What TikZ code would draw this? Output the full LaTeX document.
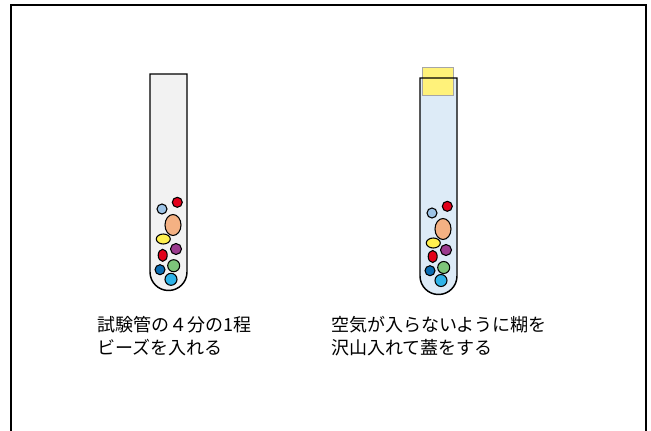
\documentclass[tikz,border=0pt]{standalone}
\usepackage{fontspec}
\newfontfamily\jp{Noto Sans CJK JP}
\definecolor{glassgray}{HTML}{F2F2F2}
\definecolor{glassblue}{HTML}{DDEBF7}
\definecolor{capyellow}{HTML}{FFF27A}
\definecolor{bLightBlue}{HTML}{9DC3E6}
\definecolor{bRed}{HTML}{E2001A}
\definecolor{bSalmon}{HTML}{F4B183}
\definecolor{bYellow}{HTML}{FFF04F}
\definecolor{bPurple}{HTML}{9B3A8E}
\definecolor{bGreen}{HTML}{7DC57A}
\definecolor{bDarkBlue}{HTML}{0B6DB3}
\definecolor{bCyan}{HTML}{2EB3E8}
\tikzset{
  frame/.style={line width=1.5pt, draw=black},
  tubeline/.style={line width=1.1pt, draw=black},
  bead/.style={line width=0.8pt, draw=black},
  capbox/.style={fill=capyellow, draw=gray!70, line width=0.5pt},
  caption/.style={font=\jp\fontsize{13.5pt}{17.25pt}\selectfont, align=left, anchor=north west, inner sep=0pt, text=black}
}
\begin{document}
\begin{tikzpicture}[x=0.75pt, y=-0.75pt]
\useasboundingbox (0,0) rectangle (651,430);
\fill[white] (0,0) rectangle (651,430);
% outer frame, its bottom edge lies below the page
\draw[frame] (11,5) rectangle (646,445);

% left tube: open, grey glass
\fill[glassgray] (150,74) -- (150,272) arc[start angle=180, end angle=0, radius=18.5] -- (187,74) -- cycle;
\foreach \x/\y/\rx/\ry/\c in {
  162/209/5/5/bLightBlue, 177.3/202.3/5/5/bRed, 173/225/8/10.5/bSalmon,
  163.3/239/7/5/bYellow, 176/249/5.5/5.5/bPurple, 162.7/255.3/4.5/6/bRed,
  160/269.7/5/5/bDarkBlue, 173.7/265.7/6/6/bGreen, 171/279.3/6/6/bCyan}
  \draw[bead, fill=\c] (\x,\y) ellipse[x radius=\rx, y radius=\ry];
\draw[tubeline] (150,74) -- (150,272) arc[start angle=180, end angle=0, radius=18.5] -- (187,74) -- cycle;

% right tube: blue glass with a stopper
\begin{scope}[shift={(270,4)}]
\fill[glassblue] (150,74) -- (150,272) arc[start angle=180, end angle=0, radius=18.5] -- (187,74) -- cycle;
\draw[capbox] (152,63) rectangle (183,91);
\foreach \x/\y/\rx/\ry/\c in {
  162/209/5/5/bLightBlue, 177.3/202.3/5/5/bRed, 173/225/8/10.5/bSalmon,
  163.3/239/7/5/bYellow, 176/246/5.5/5.5/bPurple, 162.7/252.5/4.5/6/bRed,
  160/266.7/5/5/bDarkBlue, 173.7/263.5/6/6/bGreen, 171/276.5/6/6/bCyan}
  \draw[bead, fill=\c] (\x,\y) ellipse[x radius=\rx, y radius=\ry];
\draw[tubeline] (150,74) -- (150,272) arc[start angle=180, end angle=0, radius=18.5] -- (187,74) -- cycle;
\end{scope}

% captions
\node[caption] (capL) at (97,316) {試験管の４分の1程\\ビーズを入れる};
\node[caption] (capR) at (331,316) {空気が入らないように糊を\\沢山入れて蓋をする};
\end{tikzpicture}
\end{document}
